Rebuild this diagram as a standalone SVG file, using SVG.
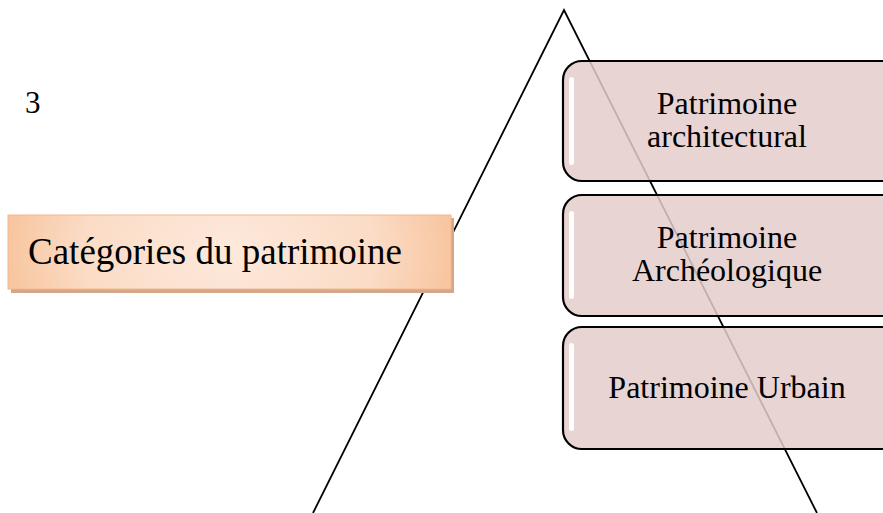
<svg xmlns="http://www.w3.org/2000/svg" width="883" height="513" viewBox="0 0 883 513">
<style>
.t{font-family:"Liberation Serif","Times New Roman",serif;fill:#000}
.bx{fill:#e5cccd;fill-opacity:0.85;stroke:#000;stroke-width:2.2}
.hl{fill:#fff}
.bt{font-size:32px;text-anchor:middle}
.c3{font-size:31px}
.ct{font-size:37px}
</style>
<defs>
<radialGradient id="og" cx="0.5" cy="0.5" r="0.6" gradientTransform="translate(0.5 0.5) scale(1 4) translate(-0.5 -0.5)">
<stop offset="0" stop-color="#fde9dc"/>
<stop offset="0.55" stop-color="#fbdcc6"/>
<stop offset="1" stop-color="#f6b98a"/>
</radialGradient>
</defs>
<g id="connectors">
<polyline points="313,513 564,10 817,513" fill="none" stroke="#000" stroke-width="1.8" stroke-linejoin="miter"/>
</g>
<g id="label3"><text class="t c3" x="25" y="113">3</text></g>
<g id="categories">
<rect x="11" y="218" width="443" height="75" fill="#d3a787"/>
<rect x="8" y="215" width="443" height="74" fill="url(#og)" stroke="#f4b890" stroke-width="1"/>
<text class="t ct" x="28" y="264">Catégories du patrimoine</text>
</g>
<g id="archi">
<rect class="bx" x="563" y="61" width="340" height="120" rx="19"/>
<rect class="hl" x="569" y="77" width="5" height="88" rx="2.5"/>
<text class="t bt" x="727" y="114">Patrimoine</text>
<text class="t bt" x="727" y="147">architectural</text>
</g>
<g id="archeo">
<rect class="bx" x="563" y="195" width="340" height="121" rx="19"/>
<rect class="hl" x="569" y="211" width="5" height="88" rx="2.5"/>
<text class="t bt" x="727" y="248">Patrimoine</text>
<text class="t bt" x="727" y="281">Archéologique</text>
</g>
<g id="urbain">
<rect class="bx" x="563" y="327" width="340" height="122" rx="19"/>
<rect class="hl" x="569" y="343" width="5" height="88" rx="2.5"/>
<text class="t bt" x="727" y="398">Patrimoine Urbain</text>
</g>
</svg>
